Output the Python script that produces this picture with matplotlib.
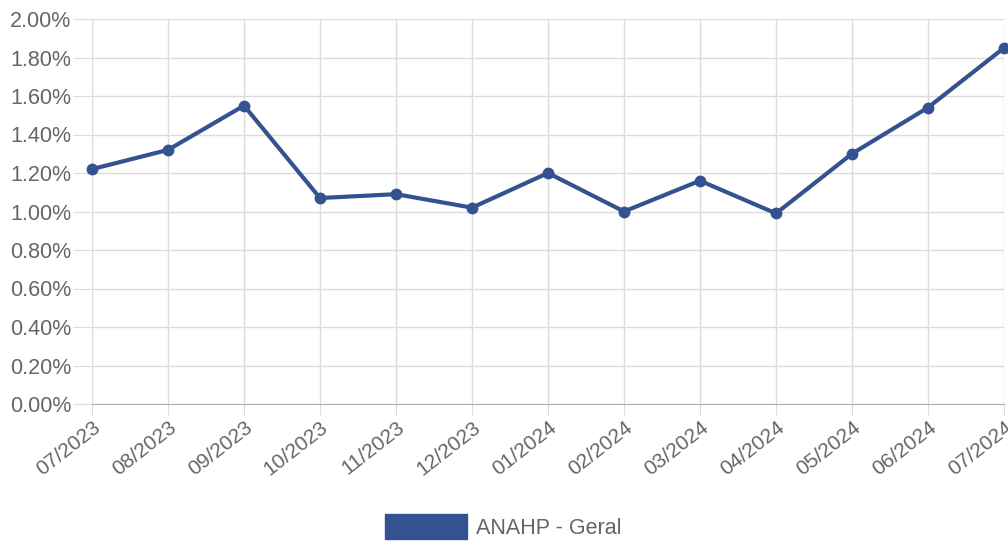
import matplotlib
matplotlib.use("Agg")
import matplotlib.pyplot as plt
from matplotlib.patches import Patch
from matplotlib.ticker import FuncFormatter

months = ["07/2023", "08/2023", "09/2023", "10/2023", "11/2023", "12/2023",
          "01/2024", "02/2024", "03/2024", "04/2024", "05/2024", "06/2024", "07/2024"]
values = [1.22, 1.32, 1.55, 1.07, 1.09, 1.02, 1.20, 1.00, 1.16, 0.99, 1.30, 1.54, 1.85]
series_name = "ANAHP - Geral"
yticks = [0.0, 0.2, 0.4, 0.6, 0.8, 1.0, 1.2, 1.4, 1.6, 1.8, 2.0]

plt.rcParams['font.family'] = ['Liberation Sans', 'DejaVu Sans']
W, H = 1008, 542
fig = plt.figure(figsize=(W / 100, H / 100), dpi=100)
ax = fig.add_axes([92 / W, 1 - 404 / H, (1004 - 92) / W, (404 - 19) / H])

color = '#34528f'
x = list(range(len(months)))
ax.plot(x, values, color=color, lw=3.0, marker='o', markersize=7.5, clip_on=False, zorder=3)

ax.set_xlim(0, len(months) - 1)
ax.set_ylim(0, 2.0)
ax.set_yticks(yticks)
ax.yaxis.set_major_formatter(FuncFormatter(lambda v, p: f"{v:.2f}%"))
ax.set_xticks(x)
ax.set_xticklabels(months, rotation=38, ha='right', va='top', rotation_mode='anchor')

grid_c = '#dcdcdc'
ax.grid(True, color=grid_c, lw=1)
ax.set_axisbelow(True)
for s in ['top', 'right']:
    ax.spines[s].set_visible(False)
ax.spines['left'].set_color(grid_c)
ax.spines['bottom'].set_color('#b0b0b0')
ax.tick_params(axis='y', length=14, color=grid_c, pad=1, labelsize=15.5, labelcolor='#666666')
ax.tick_params(axis='x', length=8, color=grid_c, pad=2, labelsize=15, labelcolor='#666666')

handle = Patch(facecolor=color, edgecolor=color)
fig.legend([handle], [series_name], loc='upper left', bbox_to_anchor=(385 / W, 1 - 514 / H),
           frameon=False, fontsize=15.5, labelcolor='#666666', handlelength=3.8, handleheight=1.4,
           handletextpad=0.45, borderpad=0, borderaxespad=0)

fig.savefig('out.png', dpi=100)
